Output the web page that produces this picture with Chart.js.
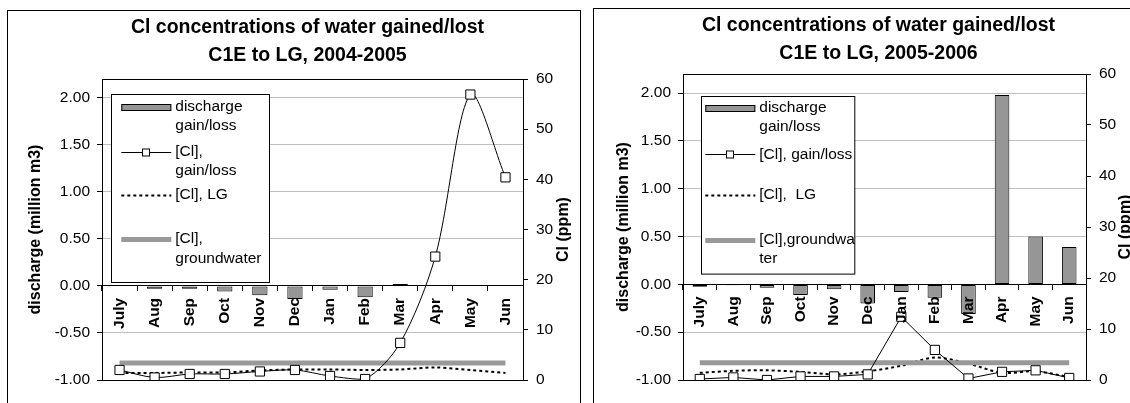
<!DOCTYPE html>
<html>
<head>
<meta charset="utf-8">
<title>Cl concentrations of water gained/lost</title>
<script src="https://cdn.jsdelivr.net/npm/chart.js@4/dist/chart.umd.min.js"></script>
<style>
  html, body { margin: 0; padding: 0; background: #fff; overflow: hidden; }
  .panel { position: absolute; border: 1px solid #000; border-bottom: none; background: #fff; }
  #panelA { left: 7px; top: 10px; width: 572px; height: 393px; }
  #panelB { left: 593px; top: 8px; width: 540px; height: 395px; }
  canvas { display: block; }
</style>
</head>
<body>
<div class="panel" id="panelA"><canvas id="chartA" width="572" height="392"></canvas></div>
<div class="panel" id="panelB"><canvas id="chartB" width="536" height="394"></canvas></div>
<script>
// === Data ===
const months = ["July", "Aug", "Sep", "Oct", "Nov", "Dec", "Jan", "Feb", "Mar", "Apr", "May", "Jun"];
const dischargeTicks = [-1, -0.5, 0, 0.5, 1, 1.5, 2];
const clTicks = [0, 10, 20, 30, 40, 50, 60];

// 2004-2005
const discharge0405 = [0.01, -0.03, -0.03, -0.06, -0.10, -0.14, -0.04, -0.12, 0.02, 0.01, 0.01, 0.00];
const clGainLoss0405 = [2.0, 0.5, 1.2, 1.2, 1.7, 2.0, 0.8, 0.2, 7.4, 24.6, 56.9, 40.4];
const clLG0405 = [1.4, 1.4, 1.5, 1.5, 1.9, 2.1, 2.1, 2.0, 2.1, 2.5, 2.0, 1.4];
const clGroundwater0405 = [3.4, 3.4, 3.4, 3.4, 3.4, 3.4, 3.4, 3.4, 3.4, 3.4, 3.4, 3.4];

// 2005-2006
const discharge0506 = [-0.025, -0.01, -0.035, -0.11, -0.05, -0.20, -0.08, -0.14, -0.31, 1.98, 0.50, 0.39];
const clGainLoss0506 = [0.2, 0.5, 0.0, 0.7, 0.7, 1.1, 12.4, 5.9, 0.3, 1.6, 1.9, 0.4];
const clLG0506 = [1.4, 1.8, 1.9, 1.6, 1.1, 1.7, 2.8, 4.4, 3.2, 1.4, 1.7, 0.6];
const clGroundwater0506 = [3.4, 3.4, 3.4, 3.4, 3.4, 3.4, 3.4, 3.4, 3.4, 3.4, 3.4, 3.4];

const FONT = '"Liberation Sans", Arial, sans-serif';
Chart.defaults.font.family = FONT;
Chart.defaults.color = "#000";

// === Plugins ===
// black frame round the plot area (top + bottom; sides come from the axes)
const plotFrame = {
  id: "plotFrame",
  beforeDatasetsDraw(chart) {
    const { ctx, chartArea: a } = chart;
    ctx.save();
    ctx.strokeStyle = "#000";
    ctx.lineWidth = 1;
    ctx.beginPath();
    ctx.moveTo(a.left, Math.round(a.top) + 0.5);
    ctx.lineTo(a.right, Math.round(a.top) + 0.5);
    ctx.moveTo(a.left, Math.round(a.bottom) + 0.5);
    ctx.lineTo(a.right + 1, Math.round(a.bottom) + 0.5);
    ctx.stroke();
    ctx.restore();
  }
};

// Excel-like boxed legend inside the plot
const makeLegend = (lay) => ({
  id: "boxLegend",
  afterDatasetsDraw(chart) {
    const { ctx, chartArea: a } = chart;
    const x0 = Math.round(a.left + lay.x), y0 = Math.round(a.top + lay.y);
    ctx.save();
    ctx.fillStyle = "#fff";
    ctx.fillRect(x0, y0, lay.width, lay.height);
    ctx.strokeStyle = "#000";
    ctx.lineWidth = 1;
    ctx.strokeRect(x0 + 0.5, y0 + 0.5, lay.width, lay.height);
    ctx.font = lay.font;
    ctx.textBaseline = "middle";

    lay.items.forEach(item => {
      const ds = chart.data.datasets[item.dataset];
      const sx = x0 + lay.swatchX, sw = lay.swatchWidth, sy = y0 + item.y;
      if (ds.type === "bar") {
        ctx.fillStyle = ds.backgroundColor;
        ctx.fillRect(sx, Math.round(sy) - 3, sw, 7);
        ctx.strokeStyle = ds.borderColor;
        ctx.lineWidth = 1;
        ctx.setLineDash([]);
        ctx.strokeRect(sx + 0.5, Math.round(sy) - 2.5, sw - 1, 6);
      } else {
        ctx.strokeStyle = ds.borderColor;
        ctx.lineWidth = ds.borderWidth;
        ctx.setLineDash(ds.borderDash || []);
        ctx.beginPath();
        ctx.moveTo(sx, Math.round(sy) + 0.5);
        ctx.lineTo(sx + sw, Math.round(sy) + 0.5);
        ctx.stroke();
        ctx.setLineDash([]);
        if (ds.pointRadius) {
          const cx = Math.round(sx + sw / 2);
          ctx.fillStyle = "#fff";
          ctx.strokeStyle = "#000";
          ctx.lineWidth = 1;
          ctx.fillRect(cx - 3.5, Math.round(sy) - 3, 7, 7);
          ctx.strokeRect(cx - 3.5, Math.round(sy) - 3, 7, 7);
        }
      }
      ctx.fillStyle = "#000";
      item.text.forEach((t, i) => ctx.fillText(t, x0 + lay.textX, sy + i * lay.lineHeight));
    });
    ctx.restore();
  }
});

// secondary axis title, reading bottom to top like the original
const makeSideTitle = (text, x) => ({
  id: "sideTitle",
  afterDraw(chart) {
    const { ctx, chartArea: a } = chart;
    ctx.save();
    ctx.translate(x, (a.top + a.bottom) / 2);
    ctx.rotate(-Math.PI / 2);
    ctx.font = `bold 16px ${FONT}`;
    ctx.fillStyle = "#000";
    ctx.textAlign = "center";
    ctx.textBaseline = "middle";
    ctx.fillText(text, 0, 0);
    ctx.restore();
  }
});

// nudge the chart title a few pixels off the plot centre
const makeTitleShift = (dx) => ({
  id: "titleShift",
  afterLayout(chart) {
    if (chart.titleBlock) {
      chart.titleBlock.left += dx;
      chart.titleBlock.right += dx;
    }
  }
});

// === Chart builder ===
const buildChart = (canvasId, o) => new Chart(document.getElementById(canvasId), {
  type: "bar",
  data: {
    labels: months,
    datasets: [
      {
        type: "line", label: "[Cl], gain/loss", data: o.gain, yAxisID: "y2",
        borderColor: "#000", borderWidth: 1, tension: o.tension,
        pointStyle: "rect", pointRadius: 6.5, pointBackgroundColor: "#fff",
        pointBorderColor: "#000", pointBorderWidth: 1, order: 1
      },
      {
        type: "line", label: "[Cl], groundwater", data: o.groundwater, yAxisID: "y2",
        borderColor: "#999999", borderWidth: 5, pointRadius: 0, order: 2
      },
      {
        type: "line", label: "[Cl], LG", data: o.lg, yAxisID: "y2",
        borderColor: "#000", borderWidth: 2, borderDash: [3, 3], pointRadius: 0,
        tension: 0.3, order: 3
      },
      {
        type: "bar", label: "discharge gain/loss", data: o.discharge, yAxisID: "y",
        backgroundColor: "#969696", borderColor: "#000", borderWidth: 1,
        borderSkipped: false, categoryPercentage: 0.435, barPercentage: 1, order: 4
      }
    ]
  },
  options: {
    responsive: false,
    devicePixelRatio: 1,
    animation: false,
    events: [],
    layout: { padding: { left: 0, right: 0, top: 0, bottom: o.bottomPad } },
    plugins: {
      legend: { display: false },
      tooltip: { enabled: false },
      title: {
        display: true,
        fullSize: false,
        text: o.title,
        color: "#000",
        font: { size: 19.5, weight: "bold", lineHeight: "28px" },
        padding: { top: 3, bottom: o.titleBottom }
      }
    },
    scales: {
      x: {
        position: { y: 0 },
        offset: true,
        grid: { drawOnChartArea: false, offset: true, tickLength: 5, color: "#000", tickColor: "#000" },
        border: { display: true, color: "#000", width: 1 },
        ticks: {
          z: 1, autoSkip: false, minRotation: 90, maxRotation: 90, padding: 7,
          color: "#000", font: { size: 15.5, weight: "bold" }
        }
      },
      y: {
        position: "left",
        min: -1,
        max: 2.2,
        afterBuildTicks: s => { s.ticks = dischargeTicks.map(v => ({ value: v })); },
        afterFit: s => { s.width = o.leftWidth; },
        grid: {
          color: c => (c.tick && (c.tick.value === 0 || c.tick.value === -1)) ? "rgba(0,0,0,0)" : "#c0c0c0",
          tickColor: "#000",
          tickLength: 5
        },
        border: { display: true, color: "#000" },
        ticks: { padding: 7, color: "#000", font: { size: 15.5 }, callback: v => v.toFixed(2) },
        title: {
          display: true, text: "discharge (million m3)", color: "#000",
          font: { size: 16, weight: "bold" }, padding: { top: o.axisTitlePad, bottom: 0 }
        }
      },
      y2: {
        position: "right",
        min: 0,
        max: 60,
        afterBuildTicks: s => { s.ticks = clTicks.map(v => ({ value: v })); },
        afterFit: s => { s.width = o.rightWidth; },
        grid: { drawOnChartArea: false, tickColor: "#000", tickLength: 5 },
        border: { display: true, color: "#000" },
        ticks: { padding: 8, color: "#000", font: { size: 15.5 } }
      }
    }
  },
  plugins: [plotFrame, makeLegend(o.legend), makeSideTitle("Cl (ppm)", o.sideTitleX), makeTitleShift(o.titleShift)]
});

// === 2004-2005 ===
buildChart("chartA", {
  title: ["Cl concentrations of water gained/lost", "C1E to LG, 2004-2005"],
  discharge: discharge0405, gain: clGainLoss0405, lg: clLG0405, groundwater: clGroundwater0405,
  tension: 0.3,
  leftWidth: 94, rightWidth: 57, bottomPad: 23, titleBottom: 9,
  axisTitlePad: 18, sideTitleX: 555.5, titleShift: -5,
  legend: {
    x: 8.7, y: 15, width: 158, height: 188,
    swatchX: 10.3, swatchWidth: 50, textX: 64.3, lineHeight: 19.5,
    font: `15.5px ${FONT}`,
    items: [
      { dataset: 3, y: 12.7, text: ["discharge", "gain/loss"] },
      { dataset: 0, y: 57.7, text: ["[Cl],", "gain/loss"] },
      { dataset: 2, y: 101, text: ["[Cl], LG"] },
      { dataset: 1, y: 145, text: ["[Cl],", "groundwater"] }
    ]
  }
});

// === 2005-2006 ===
buildChart("chartB", {
  title: ["Cl concentrations of water gained/lost", "C1E to LG, 2005-2006"],
  discharge: discharge0506, gain: clGainLoss0506, lg: clLG0506, groundwater: clGroundwater0506,
  tension: 0,
  leftWidth: 89, rightWidth: 44, bottomPad: 23, titleBottom: 6,
  axisTitlePad: 20, sideTitleX: 532, titleShift: -6,
  legend: {
    x: 17.7, y: 21.7, width: 153.3, height: 177.6,
    swatchX: 4.3, swatchWidth: 50, textX: 58.3, lineHeight: 19,
    font: `15.5px ${FONT}`,
    items: [
      { dataset: 3, y: 12, text: ["discharge", "gain/loss"] },
      { dataset: 0, y: 58.3, text: ["[Cl], gain/loss"] },
      { dataset: 2, y: 98.6, text: ["[Cl],  LG"] },
      { dataset: 1, y: 143.6, text: ["[Cl],groundwa", "ter"] }
    ]
  }
});
</script>
</body>
</html>
